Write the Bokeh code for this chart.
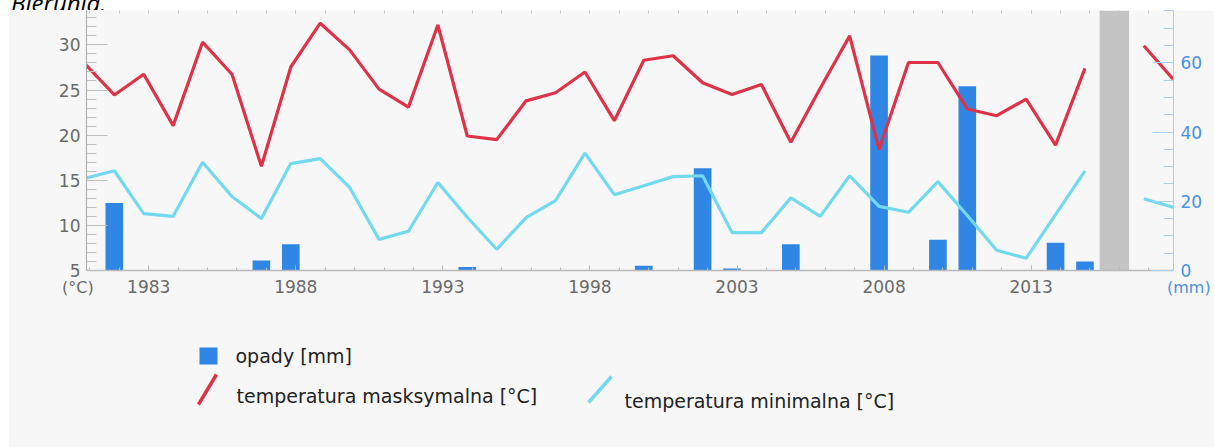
from bokeh.plotting import figure
from bokeh.models import (Range1d, LinearAxis, FixedTicker, BoxAnnotation,
                          ColumnDataSource, Div)
from bokeh.layouts import column
from bokeh.core.properties import value
from bokeh.embed import file_html
from bokeh.resources import INLINE

nan = float("nan")

# ---- data -------------------------------------------------------------
years = list(range(1981, 2019))
tmax = [27.9, 24.45, 26.75, 21.05, 30.3, 26.75, 16.55, 27.55, 32.4, 29.45,
        25.1, 23.1, 32.2, 19.9, 19.5, 23.8, 24.7, 27.0, 21.6, 28.3,
        28.8, 25.8, 24.5, 25.6, 19.2, 25.2, 31.0, 18.4, 28.05, 28.05,
        22.9, 22.15, 24.0, 18.9, 27.4, nan, 29.9, 26.2]
tmin = [15.2, 16.05, 11.3, 11.0, 17.0, 13.2, 10.75, 16.85, 17.4, 14.2,
        8.45, 9.35, 14.75, 10.9, 7.35, 10.85, 12.75, 18.0, 13.4, 14.4,
        15.4, 15.5, 9.2, 9.2, 13.05, 11.0, 15.5, 12.1, 11.45, 14.85,
        11.1, 7.25, 6.35, 11.2, 16.05, nan, 12.95, 12.0]
opady = [0, 19.5, 0, 0, 0, 0, 2.9, 7.6, 0, 0,
         0, 0, 0, 1.0, 0, 0, 0, 0, 0, 1.4,
         0, 29.5, 0.6, 0, 7.6, 0, 0, 62.1, 0, 8.9,
         53.2, 0, 0, 8.0, 2.6, nan, 0, 0]
missing_years = [2016]
label_years = [1983, 1988, 1993, 1998, 2003, 2008, 2013]
temp_ticks = [5, 10, 15, 20, 25, 30]
mm_ticks = [0, 20, 40, 60]
series_names = ["opady [mm]", "temperatura masksymalna [°C]", "temperatura minimalna [°C]"]
unit_left, unit_right = "(°C)", "(mm)"
title_text = "Bierunia."

# ---- style ------------------------------------------------------------
BG = "#f7f7f7"
RED = "#de3248"
CYAN = "#72d9ef"
BLUE = "#2f86e4"
AXBLUE = "#4a90e2"
GRAYTXT = "#6a6a6a"
FONT = "DejaVu Sans"
SHIFT = 0.17  # points sit slightly left of the year ticks

W = 1206
LB, RB = 78, 41          # frame borders (px)
H1, H2 = 308, 130

xpos = [y - SHIFT for y in years]
src = ColumnDataSource(dict(x=xpos, tmax=tmax, tmin=tmin, opady=opady))

p = figure(width=W, height=H1, output_backend="svg", toolbar_location=None,
           x_range=Range1d(1981.054 - SHIFT, 2018.01 - SHIFT), y_range=Range1d(5.0, 33.81),
           min_border_left=LB, min_border_right=RB, min_border_top=0, min_border_bottom=48,
           background_fill_color=BG, border_fill_color=BG, outline_line_color=None,
           margin=(0, 0, 0, 8))
p.xgrid.visible = False
p.ygrid.visible = False

p.extra_y_ranges = {"mm": Range1d(0, 75.1)}

# left axis
ya = p.yaxis[0]
ya.ticker = FixedTicker(ticks=temp_ticks, minor_ticks=list(range(5, 34)))
ya.axis_line_color = "#a8a8a8"
ya.major_tick_line_color = "#bdbdbd"
ya.minor_tick_line_color = "#bdbdbd"
ya.major_tick_in = 21
ya.major_tick_out = 0
ya.minor_tick_in = 10
ya.minor_tick_out = 0
ya.major_label_standoff = 6
ya.major_label_text_font = FONT
ya.major_label_text_font_size = "17px"
ya.major_label_text_color = GRAYTXT

# bottom axis
xa = p.xaxis[0]
xa.ticker = FixedTicker(ticks=label_years, minor_ticks=years)
xa.axis_line_color = "#b8b8b8"
xa.axis_line_width = 1.5
xa.major_tick_line_color = "#b0b0b0"
xa.minor_tick_line_color = "#b8b8b8"
xa.major_tick_in = 5
xa.major_tick_out = 0
xa.minor_tick_in = 3
xa.minor_tick_out = 0
xa.major_label_standoff = 9
xa.major_label_text_font = FONT
xa.major_label_text_font_size = "17px"
xa.major_label_text_color = GRAYTXT

# top: tick marks only
ta = LinearAxis(ticker=FixedTicker(ticks=label_years, minor_ticks=years))
ta.axis_line_color = None
ta.major_tick_line_color = "#c4c4c4"
ta.minor_tick_line_color = "#c4c4c4"
ta.major_tick_in = 3
ta.major_tick_out = 0
ta.minor_tick_in = 3
ta.minor_tick_out = 0
ta.major_label_standoff = 0
ta.major_label_text_font_size = "0px"
ta.major_label_text_alpha = 0
p.add_layout(ta, "above")

# right axis (mm)
ra = LinearAxis(y_range_name="mm", ticker=FixedTicker(ticks=mm_ticks, minor_ticks=list(range(0, 76, 5))))
ra.axis_line_color = "#a9cdf3"
ra.major_tick_line_color = "#a9cdf3"
ra.minor_tick_line_color = "#a9cdf3"
ra.major_tick_in = 21
ra.major_tick_out = 0
ra.minor_tick_in = 10
ra.minor_tick_out = 0
ra.major_label_standoff = 7
ra.major_label_text_font = FONT
ra.major_label_text_font_size = "17px"
ra.major_label_text_color = AXBLUE
p.add_layout(ra, "right")

# missing-data band
for my in missing_years:
    p.add_layout(BoxAnnotation(left=my - SHIFT - 0.5, right=my - SHIFT + 0.5,
                               fill_color="#c4c4c4", fill_alpha=1.0, line_color=None,
                               level="underlay"))

p.vbar(x="x", top="opady", bottom=0, width=0.6, y_range_name="mm", source=src,
       fill_color=BLUE, line_color=None)
p.line(x="x", y="tmax", source=src, line_color=RED, line_width=3.2)
p.line(x="x", y="tmin", source=src, line_color=CYAN, line_width=3.2)

# unit labels beside the x-axis labels (overlay strip pulled up over the axis area)
units = Div(text=('<div style="position:relative;width:1214px;height:20px;'
                  'font-family:\'DejaVu Sans\';font-size:16px;line-height:18px;">'
                  '<span style="position:absolute;left:62px;top:0px;color:%s;">%s</span>'
                  '<span style="position:absolute;left:1167px;top:0px;color:%s;">%s</span>'
                  '</div>') % (GRAYTXT, unit_left, AXBLUE, unit_right),
            width=1214, height=20, margin=(-39, 0, 19, 0),
            styles={"position": "relative", "z-index": "5"})

# ---- legend panel (its frame is aligned to the chart frame; x/y in canvas px) ----
q = figure(width=W, height=H2, output_backend="svg", toolbar_location=None,
           x_range=Range1d(LB, W - RB), y_range=Range1d(H2 - 1, -1),
           min_border_left=LB, min_border_right=RB, min_border_top=0, min_border_bottom=0,
           background_fill_color=BG, border_fill_color=BG, outline_line_color=None,
           margin=(-1, 0, 0, 8))
q.axis.visible = False
q.xgrid.visible = False
q.ygrid.visible = False

q.rect(x=[200], y=[37.5], width=18, height=17, fill_color=BLUE, line_color=None)
q.segment(x0=[190], y0=[86], x1=[208], y1=[56], line_color=RED, line_width=3.5)
q.segment(x0=[580], y0=[84], x1=[603], y1=[58], line_color=CYAN, line_width=3.5)
q.text(x=[227, 228, 616], y=[37, 77, 82], text=series_names,
       text_font=value(FONT), text_font_size="19px", text_color="#222222",
       text_align="left", text_baseline="middle")

title = Div(text=('<div style="font: italic 24px \'Open Sans\'; line-height: 24px; '
                  'margin-top: -27px; margin-left: 11px; color: #000;">' + title_text + '</div>'),
            width=1214, height=10, margin=(0, 0, 0, 0),
            styles={"overflow": "hidden"})

layout = column(title, p, units, q, spacing=0)
open("out.html", "w").write(file_html(layout, INLINE))
